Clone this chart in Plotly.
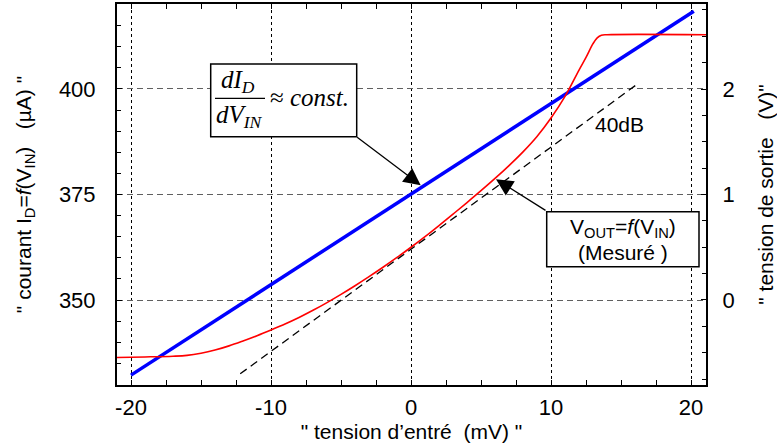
import plotly.graph_objects as go

# ---------------- data ----------------
# blue: drain current I_D (µA) vs input voltage (mV), left axis
blue_x = [-20.0, 20.2]
blue_i = [332.2, 418.4]

# red: measured output voltage (V) vs input voltage (mV), right axis
red_x = [-21.0, -19.0, -17.0, -16.0, -15.0, -14.0, -13.0, -12.0, -11.0, -10.0,
         -9.0, -8.0, -7.0, -6.0, -5.0, -4.0, -3.0, -2.0, -1.0, 0.0,
         1.0, 2.0, 3.0, 4.0, 5.0, 6.0, 7.0, 8.0, 9.0, 10.0,
         11.0, 12.0, 12.5, 13.0, 13.3, 13.6, 14.0, 21.07]
red_v = [-0.545, -0.540, -0.533, -0.525, -0.505, -0.475, -0.435, -0.388, -0.338, -0.284,
         -0.228, -0.166, -0.098, -0.025, 0.053, 0.135, 0.221, 0.310, 0.403, 0.500,
         0.601, 0.706, 0.814, 0.924, 1.036, 1.152, 1.274, 1.404, 1.550, 1.725,
         1.930, 2.180, 2.300, 2.430, 2.485, 2.510, 2.515, 2.515]

# dashed: ideal 40 dB gain line (V), right axis
gain_x = [-12.2, 16.2]
gain_v = [-0.70, 2.05]

x_ticks = [-20, -10, 0, 10, 20]
x_tick_labels = ["-20", "-10", "0", "10", "20"]
yl_ticks = [350, 375, 400]
yr_ticks = [0, 1, 2]

# ---------------- layout helpers ----------------
W, H = 777, 446
L, R, T, B = 117, 71, 4, 61
PW, PH = W - L - R, H - T - B


def px(xp):
    return (xp - L) / PW


def py(yp):
    return (H - B - yp) / PH


SANS = "Liberation Sans, Arial, sans-serif"
SERIF = "Liberation Serif, Times New Roman, serif"

fig = go.Figure()
fig.add_trace(go.Scatter(x=red_x, y=red_v, yaxis="y2", mode="lines",
                         line=dict(color="#ff0000", width=1.6, shape="spline", smoothing=1.0),
                         showlegend=False, hoverinfo="skip"))
fig.add_trace(go.Scatter(x=gain_x, y=gain_v, yaxis="y2", mode="lines",
                         line=dict(color="black", width=1.3, dash="8px,5px"),
                         showlegend=False, hoverinfo="skip"))
fig.add_trace(go.Scatter(x=blue_x, y=blue_i, mode="lines",
                         line=dict(color="#0000ff", width=3.5),
                         showlegend=False, hoverinfo="skip"))

axis_common = dict(showline=True, linecolor="black", linewidth=2, ticks="inside",
                   tickcolor="black", tickwidth=1, ticklen=5, zeroline=False,
                   tickfont=dict(family=SANS, size=22, color="black"))

fig.update_layout(
    width=W, height=H,
    margin=dict(l=L, r=R, t=T, b=B, autoexpand=False),
    paper_bgcolor="white", plot_bgcolor="white",
    font=dict(family=SANS, color="black"),
    xaxis=dict(range=[-21, 21.07], tickvals=x_ticks, ticktext=x_tick_labels,
               showgrid=True, gridcolor="black",
               griddash="3px,3px", gridwidth=1, mirror="allticks",
               minor=dict(dtick=2.5, tick0=0, ticks="inside", ticklen=4, tickcolor="black",
                          showgrid=False),
               ticklabelstandoff=2,
               title=dict(text="\"\u00a0tension d\u2019entré\u00a0\u00a0(mV)\u00a0\"",
                          font=dict(family=SANS, size=21), standoff=3),
               **axis_common),
    yaxis=dict(range=[329.86, 420.14], tickvals=yl_ticks, showgrid=True, gridcolor="#606060",
               griddash="6px,4px", gridwidth=1.3,
               minor=dict(dtick=5, tick0=350, ticks="inside", ticklen=4, tickcolor="black",
                          showgrid=False),
               ticklabelstandoff=15,
               title=dict(text="\"\u00a0courant I<sub>D</sub>=<i>f</i>(V<sub>IN</sub>)\u00a0\u00a0\u00a0(µA)\u00a0\"",
                          font=dict(family=SANS, size=21), standoff=22),
               **axis_common),
    yaxis2=dict(range=[-0.806, 2.806], tickvals=yr_ticks, overlaying="y", side="right",
                showgrid=False,
                minor=dict(dtick=0.25, tick0=0, ticks="inside", ticklen=4, tickcolor="black",
                           showgrid=False),
                ticklabelstandoff=10,
                title=dict(text="\"\u00a0tension de sortie\u00a0\u00a0\u00a0(V)\"",
                           font=dict(family=SANS, size=21), standoff=26),
                **axis_common),
)

# boxes
fig.add_shape(type="rect", xref="paper", yref="paper",
              x0=px(210.7), x1=px(356.7), y0=py(136.7), y1=py(64),
              line=dict(color="black", width=1.5), fillcolor="white", layer="above")
fig.add_shape(type="rect", xref="paper", yref="paper",
              x0=px(546.7), x1=px(699), y0=py(266.7), y1=py(211.7),
              line=dict(color="black", width=1.5), fillcolor="white", layer="above")
# fraction bar
fig.add_shape(type="line", xref="paper", yref="paper",
              x0=px(215), x1=px(265), y0=py(98.3), y1=py(98.3),
              line=dict(color="black", width=1.3), layer="above")


def txt(x, y, text, size, family=SANS, xanchor="center"):
    fig.add_annotation(xref="paper", yref="paper", x=px(x), y=py(y), text=text,
                       showarrow=False, xanchor=xanchor, yanchor="middle",
                       font=dict(family=family, size=size, color="black"))


txt(238, 82, "<i>dI<sub>D</sub></i>", 25, SERIF)
txt(239, 117, "<i>dV<sub>IN</sub></i>", 25, SERIF)
txt(268, 97, "≈ <i>const.</i>", 25, SERIF, xanchor="left")
txt(622.9, 227.5, "V<sub>OUT</sub>=<i>f</i>(V<sub>IN</sub>)", 21)
txt(622.9, 252, "(Mesuré )", 21)
txt(619, 125, "40dB", 21)

# arrows
fig.add_annotation(x=0.69, y=377.2, xref="x", yref="y", text="", showarrow=True,
                   ax=-65, ay=-49, arrowhead=2, arrowsize=2.6, arrowwidth=1.3,
                   arrowcolor="black", standoff=0)
fig.add_annotation(x=6.07, y=1.144, xref="x", yref="y2", text="", showarrow=True,
                   ax=51, ay=32, arrowhead=2, arrowsize=2.6, arrowwidth=1.3,
                   arrowcolor="black", standoff=0)

fig.write_html("out.html", config={"displayModeBar": False},
               post_script="document.body.style.margin='0';")
